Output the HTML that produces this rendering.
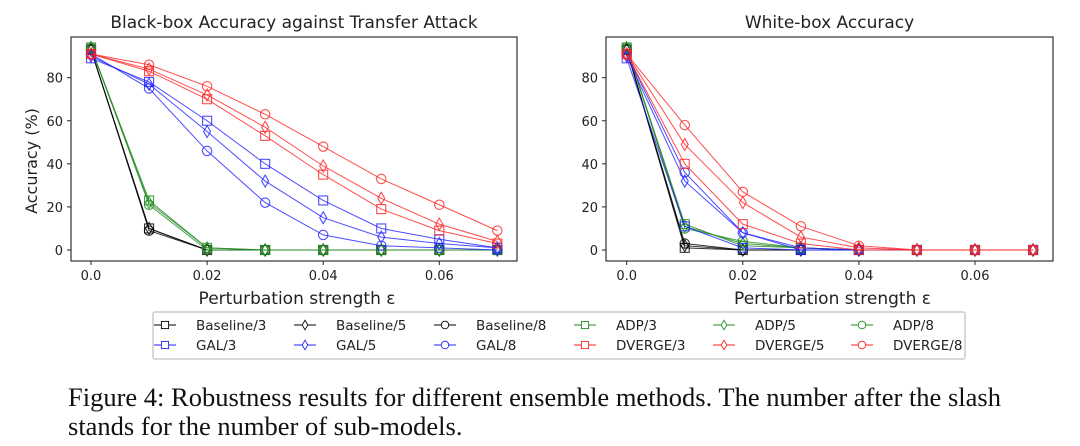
<!DOCTYPE html>
<html><head><meta charset="utf-8">
<style>
body{margin:0;background:#fff;width:1080px;height:446px;overflow:hidden;}
svg text{font-family:"DejaVu Sans","Liberation Sans",sans-serif;fill:#222;}
.cap{position:absolute;left:68px;top:383px;font-family:"Liberation Serif",serif;font-size:26.5px;line-height:29px;color:#111;width:1010px;white-space:nowrap;}
</style></head>
<body>
<svg id="fig" width="1080" height="446" style="position:absolute;left:0;top:0"></svg>
<div class="cap">Figure 4: Robustness results for different ensemble methods. The number after the slash<br>stands for the number of sub-models.</div>
<script>
const eps=[0,0.01,0.02,0.03,0.04,0.05,0.06,0.07];
const seriesNames=["Baseline/3","Baseline/5","Baseline/8","ADP/3","ADP/5","ADP/8","GAL/3","GAL/5","GAL/8","DVERGE/3","DVERGE/5","DVERGE/8"];
const seriesColors=["#000","#000","#000","#228b22","#228b22","#228b22","#2020ff","#2020ff","#2020ff","#ff2020","#ff2020","#ff2020"];
const seriesMarkers=["s","d","o","s","d","o","s","d","o","s","d","o"];
const blackBox=[
[93,10,0,0,0,0,0,0],[93,10,0,0,0,0,0,0],[93,9,0,0,0,0,0,0],
[94,23,1,0,0,0,0,0],[94,22,1,0,0,0,0,0],[94,21,0,0,0,0,0,0],
[89,78,60,40,23,10,5,1],[90,77,55,32,15,6,3,1],[91,75,46,22,7,2,1,0],
[91,83,70,53,35,19,9,3],[91,84,72,57,39,24,12,4],[91,86,76,63,48,33,21,9]];
const whiteBox=[
[93,1,0,0,0,0,0,0],[93,2,0,0,0,0,0,0],[93,3,0,0,0,0,0,0],
[94,12,2,1,0,0,0,0],[94,11,3,1,0,0,0,0],[94,10,4,1,0,0,0,0],
[89,11,1,0,0,0,0,0],[90,32,8,1,0,0,0,0],[91,36,8,0,0,0,0,0],
[91,40,12,3,0,0,0,0],[91,49,22,6,1,0,0,0],[91,58,27,11,2,0,0,0]];
const xTicks=[0,0.02,0.04,0.06];
const xTickLabels=["0.0","0.02","0.04","0.06"];
const yTicks=[0,20,40,60,80];
const NS="http://www.w3.org/2000/svg";
const svg=document.getElementById('fig');
function mk(tag,attrs,parent){const e=document.createElementNS(NS,tag);for(const k in attrs)e.setAttribute(k,attrs[k]);(parent||svg).appendChild(e);return e;}
function marker(g,type,x,y,c){
  let e;
  if(type==="s")e=mk('rect',{x:x-4.5,y:y-4.5,width:9,height:9,fill:'none',stroke:c,'stroke-width':1.1},g);
  else if(type==="d")e=mk('path',{d:`M${x} ${y-6}L${x+3.5} ${y}L${x} ${y+6}L${x-3.5} ${y}Z`,fill:'none',stroke:c,'stroke-width':1.1},g);
  else e=mk('circle',{cx:x,cy:y,r:4.7,fill:'none',stroke:c,'stroke-width':1.1},g);
  return e;
}
function panel(name,L,R,x0px,title,data,showYLabel){
  const T=37,B=261;
  const sx=v=>x0px+v*5805;
  const sy=v=>250-v*2.154;
  const g=mk('g',{});
  
  
  const t=mk('text',{x:(L+R)/2,y:28,'text-anchor':'middle','font-size':17},g);t.textContent=title;
  
  
  yTicks.forEach(v=>{
    mk('line',{x1:L-4,x2:L,y1:sy(v),y2:sy(v),stroke:'#222'},g);
    const tl=mk('text',{x:L-8,y:sy(v)+5,'text-anchor':'end','font-size':13},g);tl.textContent=v;
    
    
  });
  xTicks.forEach((v,i)=>{
    mk('line',{x1:sx(v),x2:sx(v),y1:B,y2:B+4,stroke:'#222'},g);
    const tl=mk('text',{x:sx(v),y:B+19,'text-anchor':'middle','font-size':13},g);tl.textContent=xTickLabels[i];
    
    
  });
  const xl=mk('text',{x:(L+R)/2+3,y:304,'text-anchor':'middle','font-size':17},g);xl.textContent='Perturbation strength \u03b5';
  
  
  if(showYLabel){
    const yl=mk('text',{x:0,y:0,'text-anchor':'middle','font-size':16,transform:`translate(37,${(T+B)/2+12}) rotate(-90)`},g);yl.textContent='Accuracy (%)';
    
    
  }
  data.forEach((s,i)=>{
    const sg=mk('g',{},g);
    
    
    const pts=s.map((v,j)=>sx(eps[j])+','+sy(v)).join(' ');
    mk('polyline',{points:pts,fill:'none',stroke:seriesColors[i],'stroke-width':1,'stroke-opacity':0.8},sg);
    s.forEach((v,j)=>{const m=marker(sg,seriesMarkers[i],sx(eps[j]),sy(v),seriesColors[i]);m.setAttribute('stroke-opacity',0.8);});
  });
  const fr=mk('rect',{x:L,y:T,width:R-L,height:B-T,fill:'none',stroke:'#333','stroke-width':1.2},g);
  
  
}
panel('black-box-panel',71,517,91,'Black-box Accuracy against Transfer Attack',blackBox,true);
panel('white-box-panel',606,1053,626.7,'White-box Accuracy',whiteBox,false);
const lg=mk('g',{});


mk('rect',{x:153,y:312,width:812,height:47,fill:'#fff',stroke:'#ccc','stroke-width':1.5,rx:2},lg);
const colX=[165,305,445,585,724,862];
seriesNames.forEach((n,i)=>{
  const row=i<6?0:1;
  const col=i%6;
  const x=colX[col],y=row?345:325;
  const e=mk('g',{},lg);
  
  
  mk('line',{x1:x-11,x2:x+11,y1:y,y2:y,stroke:seriesColors[i],'stroke-width':1},e);
  const m=marker(e,seriesMarkers[i],x,y,seriesColors[i]);
  m.setAttribute('transform',`translate(${x},${y}) scale(0.8) translate(${-x},${-y})`);
  m.setAttribute('fill','#fff');
  const t=mk('text',{x:x+31,y:y+5,'font-size':13.5},e);t.textContent=n;
});
</script>
</body></html>
